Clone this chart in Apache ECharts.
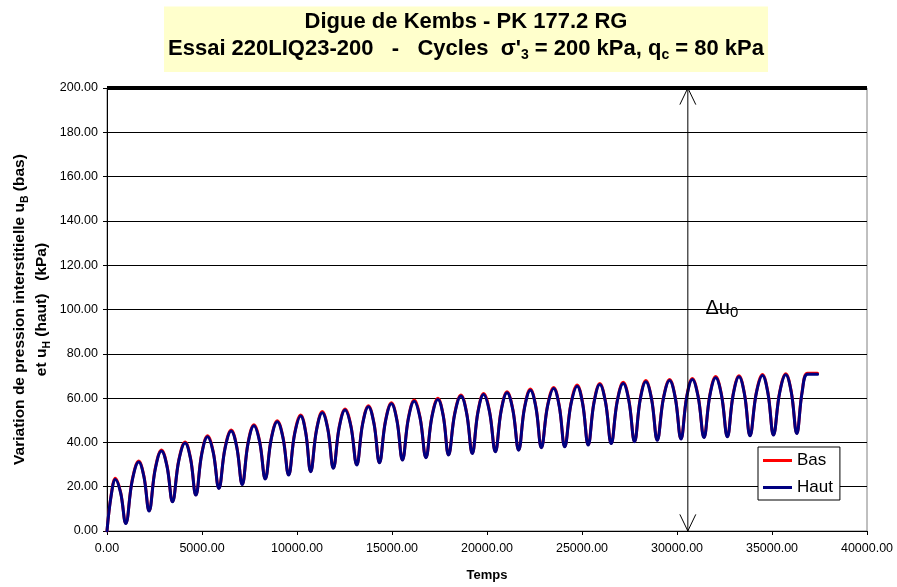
<!DOCTYPE html>
<html>
<head>
<meta charset="utf-8">
<script src="https://cdn.jsdelivr.net/npm/echarts@6/dist/echarts.min.js"></script>
<style>
html,body{margin:0;padding:0;background:#fff;}
#chart{width:897px;height:587px;}
</style>
</head>
<body>
<div id="chart"></div>
<script>
// Time (s) of each read point: start, then per cycle peak / mid-fall / trough / mid-rise, then plateau
const timeSec = [
  0, 220,
  443, 715, 986, 1329,  1671, 1943, 2214, 2541,  2867, 3157, 3447, 3780,
  4112, 4394, 4676, 4984,  5292, 5590, 5888, 6213,  6537, 6827, 7117, 7425,
  7733, 8032, 8330, 8646,  8962, 9261, 9560, 9878,  10195, 10458, 10720, 11025,
  11330, 11622, 11913, 12222,  12530, 12838, 13145, 13453,  13760, 14050, 14340, 14655,
  14970, 15260, 15550, 15859,  16168, 16477, 16785, 17101,  17417, 17697, 17976, 18303,
  18630, 18928, 19225, 19523,  19820, 20130, 20440, 20748,  21055, 21360, 21665, 21974,
  22283, 22573, 22862, 23186,  23510, 23800, 24090, 24418,  24745, 25035, 25325, 25631,
  25937, 26237, 26537, 26854,  27170, 27468, 27765, 28063,  28360, 28661, 28962, 29286,
  29610, 29910, 30210, 30509,  30807, 31114, 31420, 31728,  32035, 32343, 32650, 32957,
  33263, 33553, 33843, 34170,  34497, 34787, 35077, 35401,  35724, 36015, 36305, 36588,
  36870, 37397
];
// Pore-pressure variation, bottom gauge (kPa)
const basKPa = [
  0, 16.3,
  23.8, 17.6, 3.6, 23.1,  31.6, 24.8, 9.2, 28.3,  36.6, 29.5, 13.4, 32.1,
  40.2, 33.0, 16.4, 34.9,  43.0, 35.8, 19.4, 37.6,  45.6, 38.2, 21.2, 39.9,
  48.0, 40.6, 23.7, 41.9,  49.8, 42.4, 25.5, 44.2,  52.4, 44.7, 27.0, 45.7,
  53.9, 46.2, 28.5, 47.0,  55.1, 47.5, 30.0, 48.5,  56.6, 48.8, 31.0, 49.7,
  57.9, 50.1, 32.2, 50.9,  59.1, 51.3, 33.3, 51.8,  59.9, 52.2, 34.5, 53.2,
  61.4, 53.4, 35.2, 53.9,  62.1, 54.2, 36.0, 54.7,  62.9, 54.9, 36.7, 55.8,
  64.1, 56.1, 37.8, 56.6,  64.8, 56.7, 38.2, 57.5,  65.9, 57.7, 39.0, 58.2,
  66.6, 58.4, 39.7, 58.8,  67.1, 59.0, 40.5, 59.6,  67.9, 59.8, 41.2, 60.1,
  68.4, 60.3, 41.7, 60.6,  68.9, 60.8, 42.4, 61.4,  69.7, 61.5, 42.7, 61.8,
  70.1, 61.9, 43.2, 62.3,  70.7, 62.4, 43.5, 62.6,  71.0, 62.9, 44.2, 63.1,
  71.2, 71.2
];
// Pore-pressure variation, top gauge (kPa)
const hautKPa = [
  0, 16.0,
  23.3, 17.3, 3.4, 22.8,  31.1, 24.5, 9.0, 28.0,  36.1, 29.2, 13.2, 31.8,
  39.7, 32.7, 16.2, 34.6,  42.5, 35.5, 19.2, 37.3,  45.1, 37.9, 21.0, 39.6,
  47.5, 40.3, 23.5, 41.6,  49.3, 42.1, 25.3, 43.9,  51.9, 44.4, 26.8, 45.4,
  53.4, 45.9, 28.3, 46.7,  54.6, 47.2, 29.8, 48.2,  56.1, 48.5, 30.8, 49.4,
  57.4, 49.8, 32.0, 50.6,  58.6, 51.0, 33.1, 51.5,  59.4, 51.9, 34.3, 52.9,
  60.9, 53.1, 35.0, 53.6,  61.6, 53.9, 35.8, 54.4,  62.4, 54.6, 36.5, 55.5,
  63.6, 55.8, 37.6, 56.3,  64.3, 56.4, 38.0, 57.2,  65.4, 57.4, 38.8, 57.9,
  66.1, 58.1, 39.5, 58.5,  66.6, 58.7, 40.3, 59.3,  67.4, 59.5, 41.0, 59.8,
  67.9, 60.0, 41.5, 60.3,  68.4, 60.5, 42.2, 61.1,  69.2, 61.2, 42.5, 61.5,
  69.6, 61.6, 43.0, 62.0,  70.2, 62.1, 43.3, 62.3,  70.5, 62.6, 44.0, 62.8,
  70.8, 70.8
];
const seriesNames = ['Bas', 'Haut'];
// Reference level and Δu0 arrow (data units)
const referenceLevel = 200;
const arrowTime = 30570;
const arrowHeadHalfWidth = 420;
const arrowHeadLength = 7.5;
const deltaLabelPos = [31500, 100.5];

const FONT = '"Liberation Sans", Arial, sans-serif';
const pairs = (xs, ys) => xs.map((x, i) => [x, ys[i]]);

const chart = echarts.init(document.getElementById('chart'), null, {renderer: 'canvas'});
const option = {
  animation: false,
  backgroundColor: '#fff',
  textStyle: {fontFamily: FONT},
  title: {
    text: '{t|Digue de Kembs - PK 177.2 RG}\n{t|Essai 220LIQ23-200   -   Cycles  σ\'}{s|3}{t| = 200 kPa, q}{s|c}{t| = 80 kPa}',
    left: 462,
    top: 4,
    textAlign: 'center',
    backgroundColor: '#FFFFCC',
    padding: [4, 4, 10, 4],
    textStyle: {
      rich: {
        t: {fontFamily: FONT, fontSize: 22, fontWeight: 'bold', color: '#000', lineHeight: 27},
        s: {fontFamily: FONT, fontSize: 14, fontWeight: 'bold', color: '#000', lineHeight: 14, verticalAlign: 'bottom'}
      }
    }
  },
  legend: {
    data: seriesNames,
    orient: 'vertical',
    left: 758,
    top: 447,
    padding: [5, 7, 4, 5],
    icon: 'rect',
    itemWidth: 29,
    itemHeight: 3,
    itemGap: 10,
    borderColor: '#000',
    borderWidth: 1,
    borderRadius: 0,
    backgroundColor: '#fff',
    textStyle: {fontFamily: FONT, fontSize: 17, lineHeight: 17, color: '#000'}
  },
  grid: {
    left: 107, right: 30, top: 88, bottom: 56,
    outerBoundsMode: 'none',
    containLabel: false,
    show: true,
    borderColor: '#808080',
    borderWidth: 1,
    backgroundColor: 'transparent'
  },
  xAxis: {
    type: 'value',
    min: 0, max: 40000, interval: 5000,
    name: 'Temps',
    nameLocation: 'middle',
    nameGap: 38,
    nameMoveOverlap: false,
    nameTextStyle: {fontFamily: FONT, fontSize: 13, fontWeight: 'bold', color: '#000'},
    axisLine: {show: true, onZero: false, lineStyle: {color: '#000', width: 1}},
    axisTick: {show: true, inside: false, length: 4, lineStyle: {color: '#000'}},
    axisLabel: {fontFamily: FONT, fontSize: 12.5, color: '#000', margin: 11, formatter: v => v.toFixed(2)},
    splitLine: {show: false}
  },
  yAxis: {
    type: 'value',
    min: 0, max: 200, interval: 20,
    name: '{n|Variation de pression interstitielle u}{s|B}{n| (bas)}\n{n|et u}{s|H}{n| (haut)   (kPa)}',
    nameLocation: 'middle',
    nameRotate: 90,
    nameGap: 54,
    nameMoveOverlap: false,
    nameTextStyle: {
      align: 'center',
      rich: {
        n: {fontFamily: FONT, fontSize: 15.5, fontWeight: 'bold', color: '#000', lineHeight: 22.5},
        s: {fontFamily: FONT, fontSize: 10.5, fontWeight: 'bold', color: '#000', lineHeight: 13, verticalAlign: 'bottom'}
      }
    },
    axisLine: {show: true, lineStyle: {color: '#000', width: 1}},
    axisTick: {show: true, inside: false, length: 4, lineStyle: {color: '#000'}},
    axisLabel: {fontFamily: FONT, fontSize: 12.5, color: '#000', margin: 9, formatter: v => v.toFixed(2)},
    splitLine: {show: true, lineStyle: {color: '#000', width: 1}}
  },
  series: [
    {
      name: 'Bas', type: 'line', data: pairs(timeSec, basKPa),
      showSymbol: false, symbol: 'none', smooth: 0.4, z: 3,
      lineStyle: {color: '#FF0000', width: 3, join: 'round', cap: 'round'},
      itemStyle: {color: '#FF0000'}
    },
    {
      name: 'Haut', type: 'line', data: pairs(timeSec, hautKPa),
      showSymbol: false, symbol: 'none', smooth: 0.4, z: 4,
      lineStyle: {color: '#000080', width: 3, join: 'round', cap: 'round'},
      itemStyle: {color: '#000080'}
    },
    {
      name: 'arrow', type: 'line', silent: true, z: 5,
      data: [[arrowTime, 0], [arrowTime, referenceLevel]],
      symbol: 'none',
      lineStyle: {color: '#000', width: 1},
      markLine: {
        silent: true, symbol: ['none', 'none'],
        label: {show: false},
        lineStyle: {color: '#000', width: 4, type: 'solid'},
        data: [{yAxis: referenceLevel}]
      },
      markPoint: {
        silent: true,
        symbol: 'circle', symbolSize: 0,
        data: [{coord: deltaLabelPos}],
        label: {
          show: true, position: 'right', distance: 0,
          formatter: '{a|Δu}{b|0}',
          rich: {
            a: {fontFamily: FONT, fontSize: 20, color: '#000', lineHeight: 24},
            b: {fontFamily: FONT, fontSize: 15, color: '#000', lineHeight: 15, verticalAlign: 'bottom'}
          }
        }
      }
    },
    {
      name: 'arrowTop', type: 'line', silent: true, z: 5, symbol: 'none',
      lineStyle: {color: '#000', width: 1},
      data: [[arrowTime - arrowHeadHalfWidth, referenceLevel - arrowHeadLength], [arrowTime, referenceLevel], [arrowTime + arrowHeadHalfWidth, referenceLevel - arrowHeadLength]]
    },
    {
      name: 'arrowBottom', type: 'line', silent: true, z: 5, symbol: 'none',
      lineStyle: {color: '#000', width: 1},
      data: [[arrowTime - arrowHeadHalfWidth, arrowHeadLength], [arrowTime, 0], [arrowTime + arrowHeadHalfWidth, arrowHeadLength]]
    }
  ]
};
chart.setOption(option);
</script>
</body>
</html>
